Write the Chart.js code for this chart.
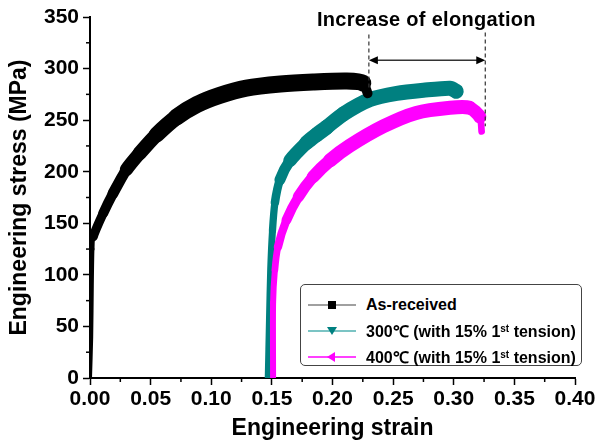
<!DOCTYPE html>
<html>
<head>
<meta charset="utf-8">
<script src="https://cdn.jsdelivr.net/npm/chart.js@4.4.1/dist/chart.umd.min.js"></script>
<style>
  html, body { margin: 0; padding: 0; background: #fff; }
  #wrap { position: relative; width: 604px; height: 443px; }
  #legendBox {
    position: absolute; left: 300px; top: 284px; width: 280px; height: 80px;
    border: 1.5px solid #444; border-radius: 5px; background: #fff;
    font-family: "Liberation Sans", Arial, sans-serif; font-weight: bold; font-size: 16px; color: #000;
  }
  .row { position: absolute; left: 7px; height: 20px; display: flex; align-items: center; white-space: nowrap; }
  .row svg { margin-right: 10px; }
  .row sup { font-size: 10px; vertical-align: 5px; line-height: 0; }
</style>
</head>
<body>
<div id="wrap">
  <canvas id="myChart" width="604" height="443"></canvas>
  <div id="legendBox"></div>
</div>
<script>
// strain / stress
const asReceivedStrain = [0, 0.001, 0.0015, 0.002, 0.0027, 0.011, 0.019, 0.030, 0.041, 0.055, 0.0715, 0.088, 0.107, 0.129, 0.157, 0.184, 0.2116, 0.225, 0.229];
const asReceivedStress = [0, 40, 90, 125, 137, 160, 179, 202, 218, 236, 253, 265, 274, 281, 285, 287, 288, 286, 276];

const t300Strain = [0.147, 0.148, 0.149, 0.1505, 0.1525, 0.1566, 0.165, 0.1786, 0.187, 0.195, 0.209, 0.231, 0.253, 0.275, 0.297, 0.302];
const t300Stress = [0, 56, 105, 143, 170, 192, 211, 228, 236, 243, 256, 270, 276, 279, 281, 278];

const t400Strain = [0.151, 0.151, 0.1525, 0.155, 0.162, 0.172, 0.184, 0.198, 0.214, 0.242, 0.269, 0.297, 0.313, 0.3215, 0.323];
const t400Stress = [0, 73, 105, 127, 153, 176, 195, 211, 225, 244, 257, 262, 262, 253, 239];

const seriesLabels = ['As-received', '300℃ (with 15% 1<sup>st</sup> tension)', '400℃ (with 15% 1<sup>st</sup> tension)'];
const xTicks = [0, 0.05, 0.10, 0.15, 0.20, 0.25, 0.30, 0.35, 0.40];
const yTicks = [0, 50, 100, 150, 200, 250, 300, 350];

// elongation annotation
const elongStart = 0.230;
const elongEnd = 0.326;

const colors = {
  black: '#000000',
  teal: '#008080',
  magenta: '#ff00ff'
};

function toPoints(xs, ys) {
  return xs.map((x, i) => ({ x: x, y: ys[i] }));
}

// near-vertical parts of the curves are thin, the rest is a wide noisy band
function bandWidth(thin, wide) {
  return ctx => {
    const dx = Math.abs(ctx.p1.x - ctx.p0.x);
    const dy = Math.abs(ctx.p1.y - ctx.p0.y);
    const angle = Math.atan2(dx, dy) * 180 / Math.PI;
    const f = Math.max(0, Math.min(1, (angle - 3) / 50));
    return thin + (wide - thin) * f;
  };
}

const minorTicks = {
  id: 'minorTicks',
  afterDraw(chart) {
    const { ctx, scales: { x, y } } = chart;
    ctx.save();
    ctx.strokeStyle = '#000';
    ctx.lineWidth = 1.5;
    for (let i = 0; i < xTicks.length - 1; i++) {
      const px = x.getPixelForValue((xTicks[i] + xTicks[i + 1]) / 2);
      ctx.beginPath();
      ctx.moveTo(px, x.top);
      ctx.lineTo(px, x.top + 4);
      ctx.stroke();
    }
    for (let i = 0; i < yTicks.length - 1; i++) {
      const py = y.getPixelForValue((yTicks[i] + yTicks[i + 1]) / 2);
      ctx.beginPath();
      ctx.moveTo(y.right, py);
      ctx.lineTo(y.right - 4, py);
      ctx.stroke();
    }
    ctx.restore();
  }
};

const elongation = {
  id: 'elongation',
  afterDraw(chart) {
    const { ctx, scales: { x, y } } = chart;
    const x1 = x.getPixelForValue(elongStart);
    const x2 = x.getPixelForValue(elongEnd);
    const ya = y.getPixelForValue(308);
    ctx.save();
    ctx.strokeStyle = '#333';
    ctx.lineWidth = 1.2;
    ctx.setLineDash([4, 3]);
    ctx.beginPath();
    ctx.moveTo(x1, y.getPixelForValue(333));
    ctx.lineTo(x1, y.getPixelForValue(281));
    ctx.moveTo(x2, y.getPixelForValue(335));
    ctx.lineTo(x2, y.getPixelForValue(244));
    ctx.stroke();
    ctx.setLineDash([]);
    ctx.lineWidth = 1.5;
    ctx.beginPath();
    ctx.moveTo(x1 + 6, ya);
    ctx.lineTo(x2 - 6, ya);
    ctx.stroke();
    ctx.fillStyle = '#000';
    ctx.beginPath();
    ctx.moveTo(x1, ya); ctx.lineTo(x1 + 9, ya - 4); ctx.lineTo(x1 + 9, ya + 4); ctx.closePath();
    ctx.moveTo(x2, ya); ctx.lineTo(x2 - 9, ya - 4); ctx.lineTo(x2 - 9, ya + 4); ctx.closePath();
    ctx.fill();
    ctx.font = 'bold 20px "Liberation Sans", Arial, sans-serif';
    ctx.letterSpacing = '0.3px';
    ctx.textAlign = 'center';
    ctx.textBaseline = 'middle';
    ctx.fillText('Increase of elongation', x.getPixelForValue(0.2774), y.getPixelForValue(347));
    ctx.restore();
  }
};

const myChart = new Chart(document.getElementById('myChart').getContext('2d'), {
  type: 'line',
  data: {
    datasets: [
      {
        label: 'As-received',
        data: toPoints(asReceivedStrain, asReceivedStress),
        borderColor: colors.black,
        order: 0,
        segment: { borderWidth: bandWidth(4, 17) }
      },
      {
        label: '300',
        data: toPoints(t300Strain, t300Stress),
        borderColor: colors.teal,
        order: 2,
        segment: { borderWidth: bandWidth(7, 15) }
      },
      {
        label: '400',
        data: toPoints(t400Strain, t400Stress),
        borderColor: colors.magenta,
        order: 1,
        segment: { borderWidth: bandWidth(6, 14) }
      }
    ]
  },
  options: {
    responsive: false,
    animation: false,
    layout: { padding: { top: 17, right: 29, left: 0, bottom: 0 } },
    elements: {
      line: { tension: 0.25, borderCapStyle: 'round', borderJoinStyle: 'round', fill: false },
      point: { radius: 0 }
    },
    scales: {
      x: {
        type: 'linear',
        min: 0,
        max: 0.4,
        afterFit: s => { s.height = 65; },
        afterBuildTicks: s => { s.ticks = xTicks.map(v => ({ value: v })); },
        border: { color: '#000', width: 2 },
        grid: { drawOnChartArea: false, tickLength: 7, tickColor: '#000', tickWidth: 1.5 },
        ticks: {
          color: '#000',
          padding: 2,
          maxRotation: 0,
          font: { family: '"Liberation Sans", Arial, sans-serif', weight: 'bold', size: 21 },
          callback: v => v.toFixed(2)
        },
        title: {
          display: true,
          text: 'Engineering strain',
          color: '#000',
          padding: { bottom: 1 },
          font: { family: '"Liberation Sans", Arial, sans-serif', weight: 'bold', size: 23 }
        }
      },
      y: {
        type: 'linear',
        min: 0,
        max: 350,
        afterFit: s => { s.width = 90; },
        afterBuildTicks: s => { s.ticks = yTicks.map(v => ({ value: v })); },
        border: { color: '#000', width: 2 },
        grid: { drawOnChartArea: false, tickLength: 7, tickColor: '#000', tickWidth: 1.5 },
        ticks: {
          color: '#000',
          padding: 4,
          font: { family: '"Liberation Sans", Arial, sans-serif', weight: 'bold', size: 21 }
        },
        title: {
          display: true,
          text: 'Engineering stress (MPa)',
          color: '#000',
          padding: { top: 6 },
          font: { family: '"Liberation Sans", Arial, sans-serif', weight: 'bold', size: 23 }
        }
      }
    },
    plugins: {
      legend: { display: false },
      tooltip: { enabled: false }
    }
  },
  plugins: [minorTicks, elongation]
});

// legend box: line with marker, then label
const legendSamples = [
  { line: '#808080', marker: '<rect x="20" y="6" width="8" height="8" fill="#000"/>' },
  { line: '#4fb0b0', marker: '<polygon points="19,6 29,6 24,14" fill="#008080"/>' },
  { line: '#ff00ff', marker: '<polygon points="19,10 27,5 27,15" fill="#ff00ff"/>' }
];
const legendRows = [20, 46, 72];
const box = document.getElementById('legendBox');
seriesLabels.forEach((label, i) => {
  const row = document.createElement('div');
  row.className = 'row';
  row.style.top = (legendRows[i] - 10) + 'px';
  row.innerHTML = `<svg width="48" height="20"><line x1="0" y1="10" x2="48" y2="10" stroke="${legendSamples[i].line}" stroke-width="1.5"/>${legendSamples[i].marker}</svg><span>${label}</span>`;
  box.appendChild(row);
});
</script>
</body>
</html>
